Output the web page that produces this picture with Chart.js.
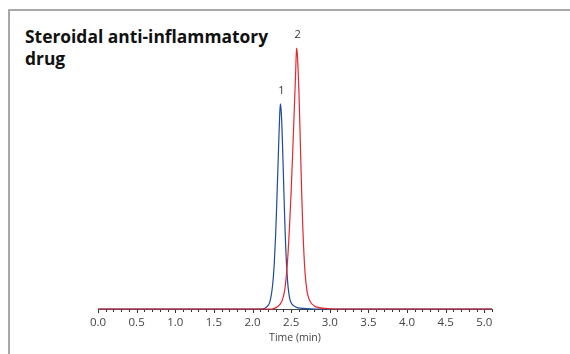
<!DOCTYPE html>
<html>
<head>
<meta charset="utf-8">
<script src="https://cdn.jsdelivr.net/npm/chart.js@4"></script>
<style>
  html, body { margin: 0; padding: 0; background: #fff; }
  #wrap { position: relative; width: 570px; height: 354px; overflow: hidden; background: #fff; }
  #frame { position: absolute; left: 8px; top: 9px; width: 600px; height: 400px;
           border-top: 2px solid #a8a8a8; border-left: 2px solid #a8a8a8; box-sizing: border-box; }
  #title { position: absolute; left: 25px; top: 25px; font-family: "Open Sans", sans-serif;
           font-weight: bold; font-size: 17.4px; line-height: 22px; color: #111; }
  #cv { position: absolute; left: 0; top: 0; }
</style>
</head>
<body>
<div id="wrap">
  <div id="frame"></div>
  <div id="title">Steroidal anti-inflammatory<br>drug</div>
  <div style="position:absolute;left:0;top:0;width:570px;height:354px;"><canvas id="cv"></canvas></div>
</div>
<script>
// Peak 1 (blue) trace: time (min) and response
const timeBlue = [0.0, 2.10, 2.16, 2.20, 2.22, 2.24, 2.26, 2.28, 2.30, 2.32, 2.34, 2.35, 2.36, 2.37, 2.38, 2.39, 2.40, 2.41, 2.42, 2.43, 2.44, 2.45, 2.46, 2.48, 2.50, 2.53, 2.57, 2.62, 2.70, 2.80, 5.1];
const respBlue = [0, 0, 0.3, 1.2, 2.2, 4.5, 8.5, 15.5, 27, 43, 60, 68, 73.5, 71.5, 66, 57.5, 48, 38.5, 29.5, 22, 16, 11.5, 8, 4, 2.2, 1.2, 0.6, 0.3, 0.1, 0, 0];
// Peak 2 (red) trace
const timeRed = [0.0, 2.25, 2.30, 2.34, 2.38, 2.40, 2.42, 2.44, 2.46, 2.48, 2.50, 2.52, 2.54, 2.56, 2.57, 2.58, 2.59, 2.60, 2.61, 2.62, 2.63, 2.64, 2.65, 2.66, 2.67, 2.68, 2.70, 2.72, 2.75, 2.80, 2.86, 2.95, 3.05, 5.1];
const respRed = [0, 0, 0.4, 1.2, 2.8, 4.5, 7.5, 12.5, 20, 30, 42, 56, 71, 86, 93.5, 91.5, 86, 78.5, 69, 58.5, 48, 38.5, 30, 23, 17.5, 13, 7.5, 4.5, 2.5, 1.1, 0.5, 0.2, 0, 0];
// Peak annotations
const peakLabels = ["1", "2"];
const peakTimes = [2.36, 2.57];
const peakResp = [73.5, 93.5];
// Axis tick labels
const tickLabels = ["0.0", "0.5", "1.0", "1.5", "2.0", "2.5", "3.0", "3.5", "4.0", "4.5", "5.0"];

const toPts = (xs, ys) => xs.map((x, i) => ({ x: x, y: ys[i] }));

const extras = {
  id: 'extras',
  afterDraw(chart) {
    const { ctx, scales: { x, y }, chartArea } = chart;
    ctx.save();
    // minor/major tick marks
    ctx.strokeStyle = '#333';
    ctx.lineWidth = 1;
    for (let i = 0; i <= 51; i++) {
      const v = i / 10;
      const px = Math.round(x.getPixelForValue(v)) + 0.5;
      const len = (i % 5 === 0) ? 3 : 2;
      ctx.beginPath();
      ctx.moveTo(px, chartArea.bottom + 1);
      ctx.lineTo(px, chartArea.bottom + 1 + len);
      ctx.stroke();
    }
    // peak labels
    ctx.fillStyle = '#333';
    ctx.font = '11px "Open Sans", sans-serif';
    ctx.textAlign = 'center';
    ctx.textBaseline = 'middle';
    peakLabels.forEach((lab, i) => {
      ctx.fillText(lab, x.getPixelForValue(peakTimes[i]) + 1, y.getPixelForValue(peakResp[i]) - 13);
    });
    ctx.restore();
  }
};

new Chart(document.getElementById('cv'), {
  type: 'line',
  data: {
    datasets: [
      { label: '2', data: toPts(timeRed, respRed), borderColor: '#e8272d', borderWidth: 1.2,
        pointRadius: 0, fill: false, cubicInterpolationMode: 'monotone', clip: false },
      { label: '1', data: toPts(timeBlue, respBlue), borderColor: '#1f4a9e', borderWidth: 1.2,
        pointRadius: 0, fill: false, cubicInterpolationMode: 'monotone', clip: false }
    ]
  },
  options: {
    responsive: true,
    maintainAspectRatio: false,
    animation: false,
    events: [],
    layout: { padding: { left: 98, right: 78, top: 30, bottom: 0 } },
    plugins: { legend: { display: false }, tooltip: { enabled: false }, title: { display: false } },
    scales: {
      x: {
        type: 'linear', min: 0, max: 5.1,
        grid: { display: false, drawTicks: false },
        border: { display: true, color: '#444', width: 1 },
        ticks: {
          stepSize: 0.5, includeBounds: false, padding: 7, autoSkip: false, maxRotation: 0,
          color: '#444', font: { family: '"Open Sans", sans-serif', size: 11.5 },
          callback: (v, i) => tickLabels[i]
        },
        title: { display: true, text: 'Time (min)', color: '#444',
                 font: { family: '"Open Sans", sans-serif', size: 10.5 }, padding: { top: 0, bottom: 10 } },
        afterFit: (s) => { s.height = 45; }
      },
      y: { type: 'linear', min: 0, max: 100, display: false }
    }
  },
  plugins: [extras]
});
</script>
</body>
</html>
